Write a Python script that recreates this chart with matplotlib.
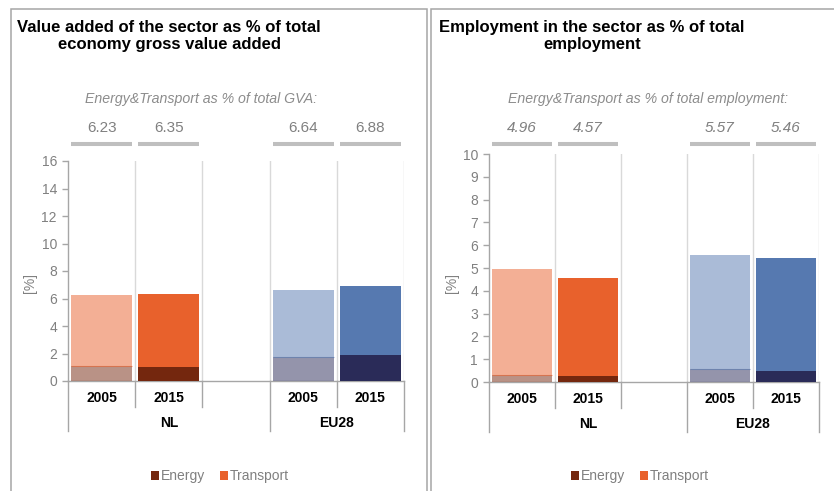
import matplotlib
matplotlib.use("Agg")
import matplotlib.pyplot as plt
from matplotlib.patches import Rectangle, Patch
from matplotlib.lines import Line2D
from matplotlib.transforms import blended_transform_factory

plt.rcParams['font.family'] = ['Liberation Sans', 'DejaVu Sans']

# ---- data -------------------------------------------------------------
regions = ["NL", "EU28"]
years = ["2005", "2015"]
series = ["Energy", "Transport"]

# value added, % of total GVA
gva_energy = [1.12, 1.04, 1.75, 1.89]
gva_total = [6.23, 6.35, 6.64, 6.88]

# employment, % of total employment
emp_energy = [0.29, 0.25, 0.58, 0.50]
emp_total = [4.96, 4.57, 5.57, 5.46]

# ---- figure -----------------------------------------------------------
W, H = 834, 491
fig = plt.figure(figsize=(W / 100, H / 100), dpi=100)


def fx(px):
    return px / W


def fy(py):
    return 1 - py / H


slot_x = [0, 1, 3, 4]
energy_col = ["#74270E", "#74270E", "#2A2B58", "#2A2B58"]
transport_col = ["#E8612C", "#E8612C", "#5679B0", "#5679B0"]
bar_alpha = [0.5, 1.0, 0.5, 1.0]

GREY_TXT = "#808080"
SPINE = "#A6A6A6"
GRID = "#D9D9D9"


def panel(rect_px, energy, total, ymax, ystep, title, title_cx, subtitle,
          sub_cx, italic_vals, legend_cx, base_py, ylabel_px):
    l, t, r, b = rect_px
    ax = fig.add_axes([fx(l), fy(b), fx(r - l), (b - t) / H])
    for i, x in enumerate(slot_x):
        ax.bar(x, energy[i], width=0.91, color=energy_col[i],
               alpha=bar_alpha[i], linewidth=0, zorder=3)
        ax.bar(x, total[i] - energy[i], bottom=energy[i], width=0.91,
               color=transport_col[i], alpha=bar_alpha[i], linewidth=0,
               zorder=3)
        if bar_alpha[i] < 1:
            # faint seam between the two translucent segments
            ax.plot([x - 0.455, x + 0.455], [energy[i], energy[i]],
                    color=transport_col[i], alpha=0.6, lw=0.8, zorder=4,
                    solid_capstyle="butt")
    ax.set_xlim(-0.5, 4.5)
    ax.set_ylim(0, ymax)
    ax.set_yticks(range(0, ymax + 1, ystep))
    ax.set_xticks([])
    for s in ("top", "right"):
        ax.spines[s].set_visible(False)
    for s in ("left", "bottom"):
        ax.spines[s].set_color(SPINE)
        ax.spines[s].set_linewidth(1.0)
    ax.tick_params(axis="y", direction="out", length=4, width=1.0,
                   color=SPINE, labelcolor=GREY_TXT, labelsize=10, pad=4)
    for xv in (0.5, 1.5, 2.5, 3.5, 4.5):
        ax.axvline(xv, color=GRID, lw=1.0, zorder=1)

    # two-level category axis below the plot
    tr = blended_transform_factory(ax.transData, fig.transFigure)
    for xv, depth in ((-0.5, 50), (0.5, 26), (1.5, 26), (2.5, 50),
                      (3.5, 26), (4.5, 50)):
        fig.add_artist(Line2D([xv, xv], [fy(base_py), fy(base_py + depth)],
                              transform=tr, color=SPINE, lw=1.0))
    for i, x in enumerate(slot_x):
        fig.text(x, fy(base_py + 17), years[i % 2], transform=tr,
                 ha="center", va="center", fontsize=10, fontweight="bold",
                 color="black")
    for reg, cx in zip(regions, (1.0, 3.5)):
        fig.text(cx, fy(base_py + 42), reg, transform=tr, ha="center",
                 va="center", fontsize=10, fontweight="bold", color="black")

    # totals above the bars
    for i, x in enumerate(slot_x):
        fig.add_artist(Line2D([x - 0.455, x + 0.455], [fy(144), fy(144)],
                              transform=tr, color="#BFBFBF", lw=2.9,
                              solid_capstyle="butt"))
        fig.text(x, fy(128), f"{total[i]:.2f}", transform=tr, ha="center",
                 va="center", fontsize=11, color=GREY_TXT,
                 style="italic" if italic_vals else "normal")
    fig.text(fx(sub_cx), fy(99), subtitle, ha="center", va="center",
             fontsize=10.2, style="italic", color="#8C8C8C")

    fig.text(fx(ylabel_px), fy(283), "[%]", rotation=90, ha="center",
             va="center", fontsize=10, color=GREY_TXT)

    fig.text(fx(title_cx), fy(20), title, ha="center", va="top",
             multialignment="center", fontsize=12, fontweight="bold",
             color="black", linespacing=1.15)

    handles = [Patch(facecolor=energy_col[1], edgecolor="none"),
               Patch(facecolor=transport_col[1], edgecolor="none")]
    fig.legend(handles, series, loc="center", ncol=2,
               bbox_to_anchor=(fx(legend_cx), fy(476)), frameon=False,
               fontsize=10, labelcolor=GREY_TXT, handlelength=0.6,
               handleheight=0.6, handletextpad=0.15, columnspacing=1.0)
    return ax


# panel frames
fig.add_artist(Rectangle((fx(11), fy(500)), fx(427 - 11), fy(9) - fy(500),
                         transform=fig.transFigure, fill=False,
                         edgecolor="#A6A6A6", lw=1.1))
fig.add_artist(Rectangle((fx(431), fy(500)), fx(860 - 431), fy(9) - fy(500),
                         transform=fig.transFigure, fill=False,
                         edgecolor="#A6A6A6", lw=1.1))

panel((68, 161, 404, 381), gva_energy, gva_total, 16, 2,
      "Value added of the sector as % of total\neconomy gross value added",
      169, "Energy&Transport as % of total GVA:", 201, False, 220, 381, 30)

panel((489, 154, 819, 382), emp_energy, emp_total, 10, 1,
      "Employment in the sector as % of total\nemployment",
      592, "Energy&Transport as % of total employment:", 648, True, 640,
      382, 452)

fig.savefig("out.png", dpi=100)
